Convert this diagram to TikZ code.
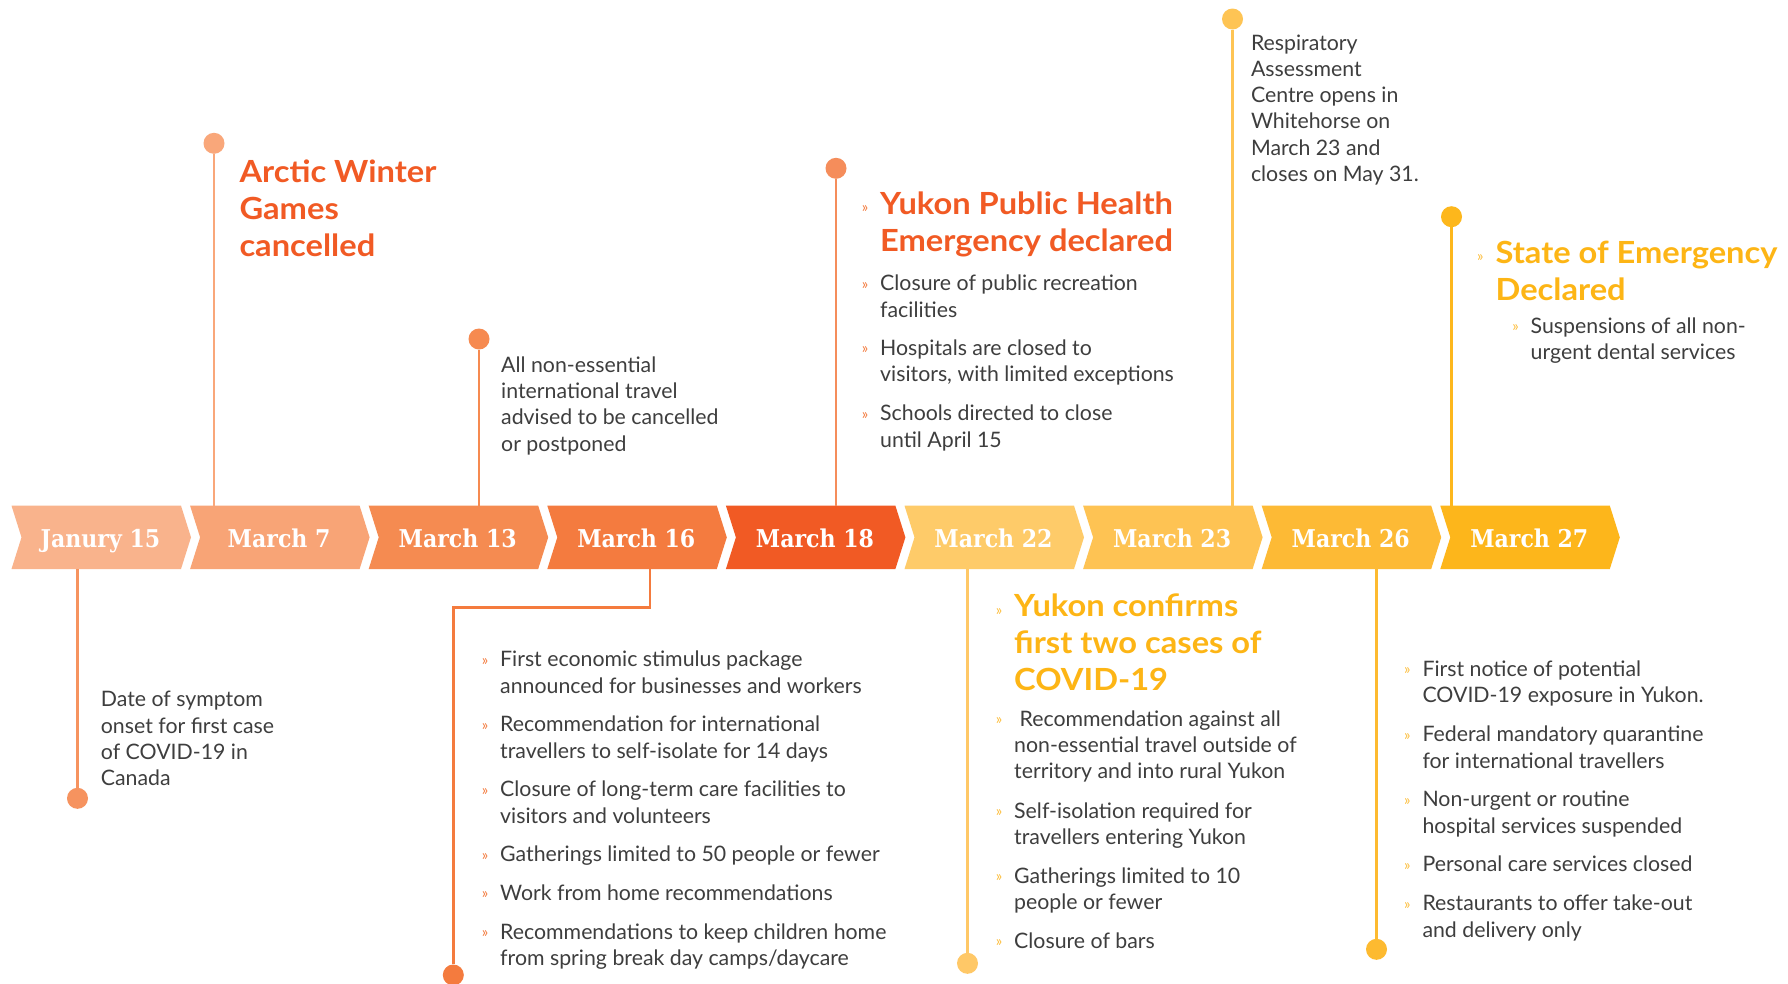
\documentclass[tikz,border=0pt]{standalone}
\usepackage{fontspec}
\setmainfont{Lato}
\newfontfamily\headfont{Lato}[FakeStretch=1.07]
\newfontfamily\slab{DejaVu Serif Condensed}
\definecolor{c0}{HTML}{F9B38C}
\definecolor{c1}{HTML}{F8A476}
\definecolor{c2}{HTML}{F58B51}
\definecolor{c3}{HTML}{F47B3F}
\definecolor{c4}{HTML}{F15A24}
\definecolor{c5}{HTML}{FECB69}
\definecolor{c6}{HTML}{FEC353}
\definecolor{c7}{HTML}{FDBA35}
\definecolor{c8}{HTML}{FDB61B}
\definecolor{st0}{HTML}{F6935F}
\definecolor{st1}{HTML}{F9A77A}
\definecolor{st2}{HTML}{F68A50}
\definecolor{st3}{HTML}{F47B3E}
\definecolor{st4}{HTML}{F58D5B}
\definecolor{st5}{HTML}{FFC867}
\definecolor{st6}{HTML}{FEC454}
\definecolor{st7}{HTML}{FDBA30}
\definecolor{st8}{HTML}{FDB71C}
\definecolor{heador}{HTML}{F15A24}
\definecolor{headye}{HTML}{FDB515}
\definecolor{bodygray}{HTML}{3E3E3E}
\definecolor{bulor}{HTML}{F47B3E}
\definecolor{bulye}{HTML}{FDBE3C}
\newcommand\tline[1]{\hbox{#1}}
\newcommand\obul{\llap{\raisebox{1.5pt}{\normalfont\fontsize{15}{15}\selectfont\color{bulor}»}\hspace{12pt}}}
\newcommand\ybul{\llap{\raisebox{1.5pt}{\normalfont\fontsize{15}{15}\selectfont\color{bulye}»}\hspace{12pt}}}
\tikzset{
  body/.style={anchor=base west, inner sep=0pt, text=bodygray, font=\fontsize{21.3}{26.3}\selectfont},
  headtxt/.style={anchor=base west, inner sep=0pt, text=#1, font=\headfont\bfseries\fontsize{30.5}{37}\selectfont},
  dot/.style={circle, fill=#1, inner sep=0pt, minimum size=21pt},
  stem/.style={draw=#1, line width=2.6pt},
  datelabel/.style={anchor=base, inner sep=0pt, text=white, font=\slab\bfseries\fontsize{24.5}{24.5}\selectfont}
}
\begin{document}
\begin{tikzpicture}[x=1pt,y=-1pt]
\fill[white] (0,0) rectangle (1788,983);
\useasboundingbox (0,0) rectangle (1788,983);

% chevrons
\foreach \i/\lab in {0/Janury 15,1/March 7,2/March 13,3/March 16,4/March 18,5/March 22,6/March 23,7/March 26,8/March 27}{
  \pgfmathsetmacro\L{11.5+178.6*\i}
  \fill[fill=c\i] (\L,505.7) -- ++(169.5,0) -- ++(10,31.65) -- ++(-10,31.65) -- ++(-169.5,0) -- ++(10,-31.65) -- cycle;
  \node[datelabel] (d\i) at (\L+89,547.3) {\lab};
}

% stem anchors on the bar
\coordinate (s0) at (77.5,569);
\coordinate (s1) at (214,505.7);
\coordinate (s2) at (479,505.7);
\coordinate (s3) at (650,569);
\coordinate (k3) at (650,607.7);
\coordinate (s4) at (836,505.7);
\coordinate (s5) at (967.5,569);
\coordinate (s6) at (1232.5,505.7);
\coordinate (s7) at (1376.5,569);
\coordinate (s8) at (1451.5,505.7);

% dots
\node[dot=st0] (p0) at (77.5,798.3) {};
\node[dot=st1] (p1) at (214,143.3) {};
\node[dot=st2] (p2) at (479,339) {};
\node[dot=st3] (p3) at (453.3,975) {};
\node[dot=st4] (p4) at (836,168.3) {};
\node[dot=st5] (p5) at (967.5,963.3) {};
\node[dot=st6] (p6) at (1232.5,19) {};
\node[dot=st7] (p7) at (1376.5,949.3) {};
\node[dot=st8] (p8) at (1451.5,216.7) {};

% stems
\draw[stem=st0] (s0) -- (p0);
\draw[stem=st1] (s1) -- (p1);
\draw[stem=st2] (s2) -- (p2);
\draw[stem=st3] (s3) -- (k3) -| (p3);
\draw[stem=st4] (s4) -- (p4);
\draw[stem=st5] (s5) -- (p5);
\draw[stem=st6] (s6) -- (p6);
\draw[stem=st7] (s7) -- (p7);
\draw[stem=st8] (s8) -- (p8);

% Jan 15
\node[body] (t0) at (100.7,706.7) {\vtop{\tline{Date of symptom}\tline{onset for first case}\tline{of COVID-19 in}\tline{Canada}}};

% March 7
\node[headtxt=heador] (h1) at (239.3,182.7) {\vtop{\tline{Arctic Winter}\tline{Games}\tline{cancelled}}};

% March 13
\node[body] (t2) at (501,372.3) {\vtop{\tline{All non-essential}\tline{international travel}\tline{advised to be cancelled}\tline{or postponed}}};

% March 16
\node[body] (t3a) at (500,666.7) {\vtop{\tline{\obul First economic stimulus package}\tline{announced for businesses and workers}}};
\node[body] (t3b) at (500,731.7) {\vtop{\tline{\obul Recommendation for international}\tline{travellers to self-isolate for 14 days}}};
\node[body] (t3c) at (500,796.7) {\vtop{\tline{\obul Closure of long-term care facilities to}\tline{visitors and volunteers}}};
\node[body] (t3d) at (500,861.7) {\vtop{\tline{\obul Gatherings limited to 50 people or fewer}}};
\node[body] (t3e) at (500,900) {\vtop{\tline{\obul Work from home recommendations}}};
\node[body] (t3f) at (500,939.3) {\vtop{\tline{\obul Recommendations to keep children home}\tline{from spring break day camps/daycare}}};

% March 18
\node[headtxt=heador] (h4) at (880,214) {\vtop{\tline{\obul Yukon Public Health}\tline{Emergency declared}}};
\node[body] (t4a) at (880,290.7) {\vtop{\tline{\obul Closure of public recreation}\tline{facilities}}};
\node[body] (t4b) at (880,355) {\vtop{\tline{\obul Hospitals are closed to}\tline{visitors, with limited exceptions}}};
\node[body] (t4c) at (880,420.7) {\vtop{\tline{\obul Schools directed to close}\tline{until April 15}}};

% March 22
\node[headtxt=headye] (h5) at (1014,616.7) {\vtop{\tline{\ybul Yukon confirms}\tline{first two cases of}\tline{COVID-19}}};
\node[body] (t5a) at (1014,726) {\vtop{\tline{\ybul\ Recommendation against all}\tline{non-essential travel outside of}\tline{territory and into rural Yukon}}};
\node[body] (t5b) at (1014,818.3) {\vtop{\tline{\ybul Self-isolation required for}\tline{travellers entering Yukon}}};
\node[body] (t5c) at (1014,883.3) {\vtop{\tline{\ybul Gatherings limited to 10}\tline{people or fewer}}};
\node[body] (t5d) at (1014,948.3) {\vtop{\tline{\ybul Closure of bars}}};

% March 23
\node[body] (t6) at (1250.8,50) {\vtop{\tline{Respiratory}\tline{Assessment}\tline{Centre opens in}\tline{Whitehorse on}\tline{March 23 and}\tline{closes on May 31.}}};

% March 26
\node[body] (t7a) at (1422.3,676) {\vtop{\tline{\ybul First notice of potential}\tline{COVID-19 exposure in Yukon.}}};
\node[body] (t7b) at (1422.3,741.7) {\vtop{\tline{\ybul Federal mandatory quarantine}\tline{for international travellers}}};
\node[body] (t7c) at (1422.3,806.7) {\vtop{\tline{\ybul Non-urgent or routine}\tline{hospital services suspended}}};
\node[body] (t7d) at (1422.3,871.7) {\vtop{\tline{\ybul Personal care services closed}}};
\node[body] (t7e) at (1422.3,910.7) {\vtop{\tline{\ybul Restaurants to offer take-out}\tline{and delivery only}}};

% March 27
\node[headtxt=headye] (h8) at (1495.4,263.3) {\vtop{\tline{\ybul State of Emergency}\tline{Declared}}};
\node[body] (t8a) at (1530.5,333.3) {\vtop{\tline{\ybul Suspensions of all non-}\tline{urgent dental services}}};
\end{tikzpicture}
\end{document}
